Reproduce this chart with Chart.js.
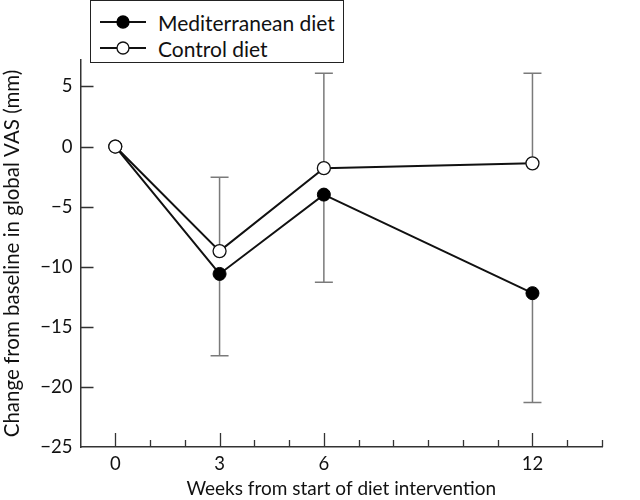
<!DOCTYPE html>
<html>
<head>
<meta charset="utf-8">
<script src="https://cdn.jsdelivr.net/npm/chart.js@4/dist/chart.umd.min.js"></script>
<style>
  html, body { margin: 0; padding: 0; background: #fff; }
  #wrap { position: relative; width: 640px; height: 500px; }
  #legend {
    position: absolute; left: 90px; top: 0px; width: 252px; height: 61px;
    border: 1.5px solid #222; background: #fff;
    font-family: Lato, "DejaVu Sans", sans-serif; font-size: 21px; color: #111;
  }
  .item { position: absolute; left: 9px; height: 26px; display: flex; align-items: center; }
  .item svg { display: block; }
  .item span { margin-left: 12px; white-space: nowrap; }
</style>
</head>
<body>
<div id="wrap">
  <canvas id="c" width="640" height="500"></canvas>
  <div id="legend"></div>
</div>
<script>
// ---- data ----
const weeks = [0, 3, 6, 12];
const mediterranean = [0, -10.6, -4.0, -12.2];
const mediterraneanLower = [null, -17.4, -11.3, -21.3];
const control = [0, -8.7, -1.8, -1.4];
const controlUpper = [null, -2.55, 6.1, 6.1];
const xLabelled = [0, 3, 6, 12];
const seriesNames = ["Mediterranean diet", "Control diet"];
const xTitle = "Weeks from start of diet intervention";
const yTitle = "Change from baseline in global VAS (mm)";

const FONT = 'Lato, "DejaVu Sans", sans-serif';
const fmt = v => (v < 0 ? "\u2212" + Math.abs(v) : String(v));

const errorBars = {
  id: "errorBars",
  beforeDatasetsDraw(chart) {
    const ctx = chart.ctx, y = chart.scales.y, x = chart.scales.x;
    ctx.save();
    ctx.strokeStyle = "#7a7a7a";
    ctx.lineWidth = 1.5;
    const draw = (vals, ends) => {
      vals.forEach((v, i) => {
        if (ends[i] == null) return;
        const px = x.getPixelForValue(weeks[i]);
        const p0 = y.getPixelForValue(v), p1 = y.getPixelForValue(ends[i]);
        ctx.beginPath();
        ctx.moveTo(px, p0); ctx.lineTo(px, p1);
        ctx.moveTo(px - 9, p1); ctx.lineTo(px + 9, p1);
        ctx.stroke();
      });
    };
    draw(mediterranean, mediterraneanLower);
    draw(control, controlUpper);
    ctx.restore();
  }
};

const inwardTicks = {
  id: "inwardTicks",
  afterDraw(chart) {
    const ctx = chart.ctx, xs = chart.scales.x, ys = chart.scales.y, a = chart.chartArea;
    ctx.save();
    ctx.strokeStyle = "#333";
    ctx.lineWidth = 1.3;
    ctx.beginPath();
    xs.ticks.forEach(t => {
      if (t.value === xs.min) return;
      const px = Math.round(xs.getPixelForValue(t.value)) + 0.5;
      const len = xLabelled.includes(t.value) ? 14 : 7;
      ctx.moveTo(px, a.bottom); ctx.lineTo(px, a.bottom - len);
    });
    ys.ticks.forEach(t => {
      if (t.value % 5 !== 0 || t.value === ys.min) return;
      const py = Math.round(ys.getPixelForValue(t.value)) + 0.5;
      ctx.moveTo(a.left, py); ctx.lineTo(a.left + 13, py);
    });
    ctx.stroke();
    ctx.restore();
  }
};

const chart = new Chart(document.getElementById("c"), {
  type: "line",
  data: {
    datasets: [
      {
        label: seriesNames[0],
        data: weeks.map((w, i) => ({ x: w, y: mediterranean[i] })),
        borderColor: "#111", borderWidth: 2,
        pointRadius: 6.5, pointBackgroundColor: "#000", pointBorderColor: "#000", pointBorderWidth: 1,
        order: 1
      },
      {
        label: seriesNames[1],
        data: weeks.map((w, i) => ({ x: w, y: control[i] })),
        borderColor: "#111", borderWidth: 2,
        pointRadius: 6.5, pointBackgroundColor: "#fff", pointBorderColor: "#111", pointBorderWidth: 1.3,
        order: 0
      }
    ]
  },
  options: {
    responsive: false,
    animation: false,
    layout: { padding: { top: 60, right: 38, left: 0, bottom: 0 } },
    plugins: { legend: { display: false }, tooltip: { enabled: false } },
    scales: {
      x: {
        type: "linear", min: -1, max: 14,
        ticks: {
          stepSize: 1, autoSkip: false, padding: 6, color: "#111", maxRotation: 0,
          font: { family: FONT, size: 18.5 },
          callback: v => (xLabelled.includes(v) ? fmt(v) : "")
        },
        grid: { drawOnChartArea: false, drawTicks: false },
        border: { display: true, color: "#333", width: 1.5 },
        title: { display: true, text: xTitle, color: "#111", font: { family: FONT, size: 19 }, padding: { top: 3, bottom: 0 } },
        afterFit: s => { s.height = 53; }
      },
      y: {
        min: -25, max: 7.2,
        ticks: {
          stepSize: 5, padding: 8, color: "#111",
          font: { family: FONT, size: 18.5 },
          callback: v => (v % 5 === 0 ? fmt(v) : "")
        },
        grid: { drawOnChartArea: false, drawTicks: false },
        border: { display: true, color: "#333", width: 1.5 },
        title: { display: true, text: yTitle, color: "#111", font: { family: FONT, size: 20.5 }, padding: { top: 0, bottom: 2 } },
        afterFit: s => { s.width = 80.5; }
      }
    }
  },
  plugins: [errorBars, inwardTicks]
});

// HTML legend built from the datasets
const legend = document.getElementById("legend");
chart.data.datasets.forEach((ds, i) => {
  const div = document.createElement("div");
  div.className = "item";
  div.style.top = (i === 0 ? 8 : 34) + "px";
  div.innerHTML =
    '<svg width="46" height="16"><line x1="0" y1="8" x2="46" y2="8" stroke="' + ds.borderColor +
    '" stroke-width="2"/><circle cx="23" cy="8" r="6" fill="' + ds.pointBackgroundColor +
    '" stroke="' + ds.pointBorderColor + '" stroke-width="1.3"/></svg><span>' + ds.label + '</span>';
  legend.appendChild(div);
});
</script>
</body>
</html>
